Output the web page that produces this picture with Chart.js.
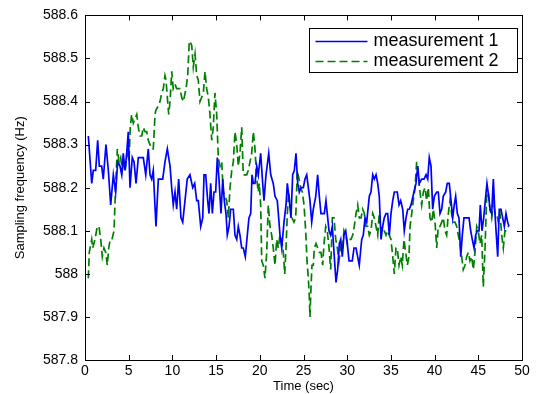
<!DOCTYPE html>
<html>
<head>
<meta charset="utf-8">
<script src="https://cdn.jsdelivr.net/npm/chart.js@4"></script>
<style>
  html, body { margin: 0; padding: 0; background: #fff; }
  #wrap { width: 541px; height: 394px; }
</style>
</head>
<body>
<div id="wrap"><canvas id="chart" width="541" height="394"></canvas></div>
<script>
const time1 = [
  0.38,0.77,0.95,1.22,1.45,1.64,1.91,2.09,2.40,2.67,2.94,3.24,3.51,3.74,4.00,4.20,4.38,4.58,4.77,4.95,
  5.15,5.41,5.61,5.84,6.10,6.37,6.67,6.95,7.24,7.44,7.63,7.81,8.12,8.39,8.66,8.89,9.15,9.42,9.73,9.92,
  10.10,10.30,10.49,10.72,10.98,11.18,11.44,11.70,
  12.01,12.32,12.55,12.78,12.96,13.24,13.47,13.62,13.81,14.04,14.19,14.38,14.57,14.76,14.95,15.14,15.33,15.56,15.76,15.94,
  16.13,16.28,16.48,16.67,16.97,17.16,17.36,17.54,17.73,17.93,18.11,18.34,18.57,18.76,18.96,19.11,19.26,19.45,19.65,19.83,
  20.10,20.33,20.48,20.71,21.02,21.25,21.54,21.74,22.00,22.16,22.31,22.51,22.77,23.00,23.15,23.38,23.57,23.76,23.95,24.14,
  24.34,24.52,24.71,24.98,25.17,25.37,
  25.74,25.94,26.12,26.40,26.62,26.81,27.00,27.38,27.57,27.72,27.92,28.11,28.30,28.49,28.72,28.91,29.10,29.26,29.44,29.63,
  29.83,30.01,30.21,30.58,30.78,31.01,31.38,31.66,31.84,32.04,32.23,32.53,32.72,32.92,33.10,33.30,33.49,33.67,33.87,34.06,
  34.24,34.44,34.63,34.82,35.01,35.21,35.39,35.58,35.73,35.93,36.12,36.35,36.53,36.73,36.92,37.11,
  37.30,37.64,37.87,38.07,38.25,38.52,38.79,39.02,39.21,39.39,39.59,39.78,39.97,40.24,40.42,40.62,40.81,40.99,41.27,41.45,
  41.68,41.88,42.07,42.25,42.41,42.60,42.79,42.99,43.17,43.36,43.56,43.74,43.94,44.13,44.31,44.51,44.70,44.89,45.08,45.23,
  45.42,45.62,45.80,45.99,46.19,46.34,46.53,46.72,46.88,47.03,47.22,47.40,47.60,47.79,47.98,48.17,48.36,48.51
];
const freq1 = [
  588.32,588.21,588.24,588.24,588.31,588.25,588.25,588.22,588.30,588.24,588.16,588.23,588.19,588.26,588.25,588.23,588.28,588.24,588.28,588.33,
  588.20,588.27,588.26,588.21,588.27,588.27,588.27,588.23,588.29,588.23,588.22,588.24,588.11,588.22,588.22,588.22,588.26,588.29,588.25,588.20,
  588.16,588.19,588.15,588.22,588.13,588.12,588.17,588.22,
  588.23,588.20,588.21,588.17,588.17,588.11,588.13,588.23,588.23,588.17,588.14,588.21,588.14,588.19,588.19,588.27,588.22,588.14,588.22,588.17,
  588.14,588.09,588.11,588.15,588.15,588.09,588.08,588.11,588.09,588.06,588.06,588.04,588.09,588.13,588.14,588.23,588.21,588.21,588.25,588.23,
  588.28,588.21,588.17,588.23,588.28,588.23,588.21,588.18,588.17,588.13,588.09,588.06,588.12,588.16,588.21,588.17,588.13,588.23,588.24,588.28,
  588.21,588.19,588.20,588.20,588.22,588.23,
  588.17,588.12,588.15,588.18,588.23,588.18,588.14,588.14,588.17,588.14,588.10,588.09,588.11,588.05,587.98,588.01,588.07,588.08,588.04,588.09,
  588.10,588.07,588.03,588.03,588.06,588.06,588.02,588.08,588.09,588.13,588.12,588.18,588.19,588.23,588.22,588.23,588.21,588.18,588.08,588.11,
  588.13,588.14,588.14,588.09,588.14,588.17,588.19,588.19,588.19,588.16,588.17,588.15,588.10,588.13,588.15,588.15,
  588.16,588.19,588.21,588.25,588.21,588.22,588.22,588.23,588.22,588.27,588.25,588.15,588.18,588.19,588.19,588.14,588.15,588.18,588.19,588.21,
  588.21,588.17,588.13,588.16,588.18,588.14,588.13,588.04,588.09,588.13,588.13,588.13,588.13,588.10,588.08,588.06,588.09,588.10,588.10,588.16,
  588.10,588.13,588.17,588.21,588.18,588.15,588.14,588.22,588.15,588.10,588.04,588.15,588.15,588.13,588.11,588.14,588.12,588.11
];

const time2 = [
  0.38,0.49,0.77,0.88,1.14,1.41,1.60,1.80,1.98,2.17,2.37,2.55,2.71,2.89,3.09,3.32,3.51,3.70,3.89,4.08,
  4.27,4.46,4.66,4.84,5.03,5.18,5.34,5.53,5.72,5.92,6.10,6.29,6.49,6.67,6.86,7.06,7.24,7.44,7.63,7.81,
  8.01,8.12,8.39,8.58,8.78,8.96,9.15,9.27,9.42,9.58,9.73,9.92,10.10,10.30,10.49,10.68,10.87,11.06,11.25,11.56,
  11.75,11.93,
  12.01,12.21,12.39,12.59,12.78,12.96,13.16,13.35,13.54,13.73,13.92,14.11,14.30,14.50,14.68,14.87,15.07,15.25,15.45,15.64,
  15.82,16.02,16.21,16.40,16.59,16.79,16.97,17.16,17.36,17.54,17.73,17.93,18.11,18.31,18.50,18.68,18.88,19.07,19.26,19.45,
  19.65,19.83,19.94,20.10,20.22,20.40,20.59,20.79,20.97,21.17,21.36,21.54,21.74,21.93,22.12,22.31,22.51,22.69,22.85,23.00,
  23.15,23.31,23.46,23.68,23.91,24.11,24.29,24.49,24.68,24.86,25.06,25.25,25.40,25.55,25.66,25.74,
  25.86,25.97,26.12,26.24,26.43,26.62,26.81,27.00,27.19,27.35,27.54,27.72,27.92,28.11,28.30,28.49,28.69,28.87,29.06,29.26,
  29.44,29.63,29.83,30.01,30.24,30.43,30.63,30.81,31.01,31.20,31.38,31.58,31.77,31.96,32.15,32.35,32.53,32.72,32.92,33.10,
  33.30,33.49,33.67,33.87,34.06,34.24,34.44,34.63,34.82,35.01,35.21,35.39,35.58,35.73,35.93,36.12,36.30,36.50,36.69,36.88,
  37.07,
  37.19,37.38,37.56,37.76,37.95,38.13,38.33,38.52,38.71,38.90,39.09,39.28,39.47,39.67,39.85,40.05,40.24,40.42,40.62,40.81,
  40.99,41.19,41.38,41.57,41.76,41.95,42.14,42.33,42.53,42.71,42.91,43.10,43.28,43.48,43.67,43.86,44.05,44.24,44.43,44.62,
  44.82,45.00,45.19,45.39,45.57,45.77,45.96,46.14,46.34,46.53,46.72,46.91,47.10,47.29,47.48,47.68,47.86,48.05,48.25,48.43
];
const freq2 = [
  587.99,588.05,588.08,588.06,588.08,588.11,588.11,588.08,588.04,588.06,588.05,588.02,588.06,588.08,588.08,588.10,588.21,588.29,588.26,588.27,
  588.24,588.26,588.25,588.29,588.26,588.34,588.37,588.35,588.36,588.37,588.34,588.32,588.32,588.34,588.33,588.33,588.31,588.30,588.29,588.29,
  588.37,588.38,588.39,588.40,588.42,588.43,588.46,588.45,588.41,588.37,588.40,588.47,588.43,588.44,588.43,588.43,588.43,588.41,588.40,588.43,
  588.46,588.54,
  588.54,588.53,588.48,588.51,588.46,588.45,588.40,588.41,588.42,588.47,588.43,588.41,588.37,588.31,588.34,588.42,588.37,588.27,588.25,588.26,
  588.19,588.18,588.17,588.13,588.20,588.24,588.26,588.33,588.30,588.25,588.28,588.34,588.23,588.23,588.23,588.24,588.26,588.28,588.33,588.29,
  588.22,588.19,588.21,588.16,588.03,588.02,587.99,588.05,588.16,588.11,588.09,588.06,588.02,588.08,588.06,588.09,588.08,588.05,588.00,588.06,
  588.14,588.19,588.16,588.13,588.12,588.13,588.24,588.22,588.20,588.19,588.16,588.10,588.03,587.99,587.95,587.90,
  587.97,588.02,588.02,588.06,588.07,588.06,588.05,588.05,588.02,588.07,588.11,588.10,588.06,588.01,588.13,588.13,588.08,588.06,588.03,588.06,
  588.05,588.10,588.09,588.07,588.08,588.08,588.09,588.11,588.14,588.16,588.13,588.13,588.15,588.14,588.11,588.11,588.09,588.10,588.14,588.13,
  588.11,588.09,588.14,588.10,588.11,588.10,588.09,588.10,588.09,588.08,588.04,588.00,588.06,588.06,588.02,588.04,588.02,588.08,588.05,588.02,
  588.04,
  588.11,588.14,588.17,588.20,588.26,588.23,588.19,588.16,588.19,588.20,588.17,588.20,588.13,588.12,588.15,588.12,588.06,588.11,588.11,588.12,
  588.13,588.10,588.09,588.14,588.17,588.14,588.12,588.12,588.11,588.09,588.07,588.04,588.01,588.02,588.04,588.05,588.03,588.04,588.01,588.05,
  588.11,588.10,588.07,588.09,587.97,588.06,588.18,588.19,588.15,588.13,588.17,588.14,588.14,588.12,588.14,588.09,588.06,588.10,588.10,588.11
];

const seriesNames = ['measurement 1', 'measurement 2'];
const xTicks = [0, 5, 10, 15, 20, 25, 30, 35, 40, 45, 50];
const yTicks = [587.8, 587.9, 588.0, 588.1, 588.2, 588.3, 588.4, 588.5, 588.6];

const FONT = "'Liberation Sans', Arial, Helvetica, sans-serif";

function pairs(ts, vs) {
  return ts.map((t, i) => ({ x: t, y: vs[i] }));
}

// matlab style box, inward ticks and legend
const frameAndLegend = {
  id: 'frameAndLegend',
  afterDraw(chart) {
    const ctx = chart.ctx;
    const ca = chart.chartArea;
    const sx = chart.scales.x, sy = chart.scales.y;
    const tick = 5;
    ctx.save();
    ctx.strokeStyle = '#000';
    ctx.lineWidth = 1;
    ctx.strokeRect(Math.round(ca.left) + 0.5, Math.round(ca.top) + 0.5,
      Math.round(ca.right - ca.left), Math.round(ca.bottom - ca.top));
    ctx.beginPath();
    xTicks.forEach(v => {
      const px = Math.round(sx.getPixelForValue(v)) + 0.5;
      ctx.moveTo(px, ca.bottom); ctx.lineTo(px, ca.bottom - tick);
      ctx.moveTo(px, ca.top); ctx.lineTo(px, ca.top + tick);
    });
    yTicks.forEach(v => {
      const py = Math.round(sy.getPixelForValue(v)) + 0.5;
      ctx.moveTo(ca.left, py); ctx.lineTo(ca.left + tick, py);
      ctx.moveTo(ca.right, py); ctx.lineTo(ca.right - tick, py);
    });
    ctx.stroke();

    // legend box
    const w = 208, h = 44;
    const lx = Math.round(ca.right - 5 - w) + 0.5;
    const ly = Math.round(ca.top + 13) + 0.5;
    ctx.fillStyle = '#fff';
    ctx.fillRect(lx, ly, w, h);
    ctx.strokeStyle = '#000';
    ctx.strokeRect(lx, ly, w, h);
    ctx.font = '18px ' + FONT;
    ctx.textBaseline = 'middle';
    chart.data.datasets.forEach((ds, i) => {
      const yy = ly + 13 + i * 20;
      ctx.beginPath();
      ctx.strokeStyle = ds.borderColor;
      ctx.lineWidth = 1.3;
      ctx.setLineDash(ds.borderDash || []);
      ctx.moveTo(lx + 6, yy); ctx.lineTo(lx + 58, yy);
      ctx.stroke();
      ctx.setLineDash([]);
      ctx.fillStyle = '#000';
      ctx.fillText(ds.label, lx + 64, yy);
    });
    ctx.restore();
  }
};

new Chart(document.getElementById('chart'), {
  type: 'line',
  data: {
    datasets: [
      {
        label: seriesNames[0],
        data: pairs(time1, freq1),
        borderColor: '#0000ff',
        borderWidth: 1.7,
        pointRadius: 0,
        tension: 0,
        fill: false
      },
      {
        label: seriesNames[1],
        data: pairs(time2, freq2),
        borderColor: '#008000',
        borderWidth: 1.7,
        borderDash: [8, 4],
        pointRadius: 0,
        tension: 0,
        fill: false
      }
    ]
  },
  options: {
    responsive: false,
    animation: false,
    devicePixelRatio: 1,
    layout: { padding: { left: 0, top: 15, right: 19, bottom: 0 } },
    plugins: { legend: { display: false }, tooltip: { enabled: false } },
    scales: {
      x: {
        type: 'linear',
        min: 0, max: 50,
        afterBuildTicks: s => { s.ticks = xTicks.map(v => ({ value: v })); },
        afterFit: s => { s.height = 34; },
        grid: { display: false, drawTicks: false },
        border: { display: false },
        ticks: { color: '#000', padding: 3, maxRotation: 0, font: { size: 14, family: FONT } },
        title: { display: true, text: 'Time (sec)', color: '#000', font: { size: 13, family: FONT }, padding: { top: 0, bottom: 0 } }
      },
      y: {
        type: 'linear',
        min: 587.8, max: 588.6,
        afterBuildTicks: s => { s.ticks = yTicks.map(v => ({ value: v })); },
        afterFit: s => { s.width = 85; },
        grid: { display: false, drawTicks: false },
        border: { display: false },
        ticks: {
          color: '#000', padding: 7, font: { size: 14, family: FONT },
          callback: v => String(+v.toFixed(1))
        },
        title: { display: true, text: 'Sampling frequency (Hz)', color: '#000', font: { size: 13, family: FONT }, padding: { top: 13, bottom: 0 } }
      }
    }
  },
  plugins: [frameAndLegend]
});
</script>
</body>
</html>
